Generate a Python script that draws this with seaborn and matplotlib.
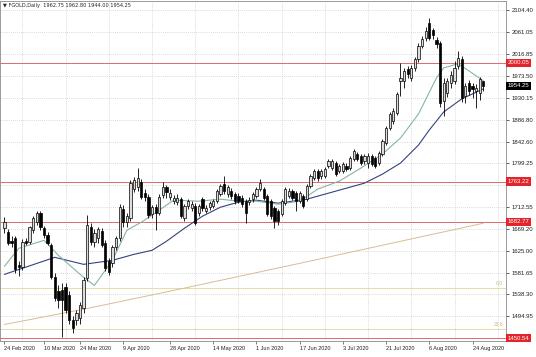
import matplotlib
matplotlib.use("Agg")
import matplotlib.pyplot as plt
import matplotlib.transforms as mtransforms
import seaborn as sns
import pandas as pd
import numpy as np

# ---------------- data ----------------
dates = pd.bdate_range("2020-02-24", "2020-08-27")

opens = [1670, 1662, 1645, 1650, 1596, 1592, 1644, 1642, 1666, 1682,
         1700, 1670, 1656, 1636, 1573, 1545, 1546, 1553, 1537, 1487,
         1487, 1491, 1511, 1571, 1672, 1642, 1650, 1664, 1640, 1604,
         1600, 1632, 1650, 1708, 1682, 1690, 1748, 1752, 1762, 1740,
         1732, 1698, 1712, 1700, 1736, 1752, 1732, 1724, 1722, 1728,
         1690, 1714, 1710, 1714, 1700, 1728, 1704, 1712, 1714, 1724,
         1738, 1758, 1738, 1744, 1738, 1734, 1730, 1724, 1722, 1728,
         1734, 1748, 1748, 1734, 1724, 1710, 1704, 1698, 1720, 1734,
         1744, 1740, 1724, 1734, 1728, 1754, 1770, 1784, 1774, 1774,
         1794, 1790, 1800, 1784, 1784, 1794, 1790, 1808, 1818, 1814,
         1804, 1800, 1814, 1810, 1800, 1818, 1840, 1870, 1884, 1900,
         1964, 1964, 1988, 1970, 1990, 2008, 2034, 2050, 2080, 2066,
         2046, 2040, 1924, 1940, 1960, 1964, 1994, 2008, 1934, 1960,
         1954, 1944, 1940, 1962.75]
highs = [1692, 1668, 1655, 1655, 1605, 1648, 1650, 1675, 1694, 1704,
         1704, 1675, 1662, 1640, 1580, 1556, 1560, 1560, 1545, 1495,
         1506, 1522, 1572, 1696, 1680, 1668, 1672, 1670, 1646, 1610,
         1636, 1655, 1718, 1716, 1700, 1766, 1772, 1790, 1768, 1748,
         1738, 1716, 1718, 1738, 1762, 1756, 1748, 1736, 1738, 1732,
         1718, 1728, 1724, 1720, 1718, 1732, 1716, 1724, 1728, 1748,
         1758, 1774, 1756, 1750, 1742, 1740, 1736, 1728, 1732, 1742,
         1752, 1768, 1752, 1738, 1728, 1714, 1708, 1728, 1752, 1750,
         1748, 1744, 1744, 1738, 1758, 1778, 1788, 1788, 1788, 1792,
         1808, 1808, 1804, 1798, 1802, 1800, 1814, 1828, 1822, 1818,
         1818, 1820, 1818, 1814, 1824, 1848, 1874, 1902, 1910, 1942,
         2000, 1990, 1994, 1996, 2012, 2040, 2054, 2072, 2090, 2070,
         2052, 2044, 1970, 1970, 1984, 2004, 2024, 2014, 1960, 1966,
         1960, 1958, 1972, 1962.80]
lows = [1660, 1636, 1632, 1580, 1575, 1586, 1636, 1638, 1660, 1676,
        1666, 1650, 1636, 1568, 1525, 1510, 1453, 1500, 1480, 1462,
        1478, 1480, 1500, 1565, 1636, 1632, 1640, 1632, 1584, 1576,
        1592, 1626, 1645, 1672, 1672, 1685, 1742, 1745, 1728, 1725,
        1690, 1690, 1666, 1696, 1730, 1730, 1726, 1718, 1716, 1690,
        1684, 1708, 1704, 1676, 1694, 1704, 1700, 1706, 1710, 1720,
        1734, 1738, 1732, 1728, 1718, 1720, 1712, 1680, 1716, 1722,
        1730, 1744, 1726, 1694, 1688, 1670, 1676, 1694, 1716, 1730,
        1726, 1704, 1720, 1710, 1724, 1750, 1766, 1764, 1768, 1770,
        1790, 1786, 1774, 1780, 1780, 1784, 1786, 1804, 1804, 1796,
        1798, 1790, 1794, 1790, 1796, 1814, 1836, 1866, 1878, 1896,
        1934, 1950, 1970, 1964, 1984, 2002, 2030, 2044, 2046, 2048,
        2030, 1912, 1894, 1932, 1950, 1958, 1988, 1922, 1920, 1936,
        1930, 1910, 1926, 1944.00]
closes = [1682, 1640, 1640, 1588, 1592, 1642, 1640, 1672, 1690, 1700,
          1672, 1656, 1640, 1573, 1531, 1527, 1527, 1507, 1487, 1471,
          1501, 1517, 1567, 1676, 1642, 1660, 1668, 1636, 1590, 1582,
          1632, 1650, 1712, 1682, 1694, 1760, 1766, 1770, 1732, 1732,
          1696, 1712, 1700, 1732, 1752, 1742, 1740, 1730, 1730, 1694,
          1714, 1724, 1718, 1680, 1714, 1710, 1710, 1720, 1724, 1744,
          1754, 1744, 1752, 1734, 1724, 1724, 1718, 1700, 1726, 1738,
          1748, 1760, 1730, 1698, 1694, 1684, 1684, 1724, 1748, 1744,
          1730, 1724, 1740, 1714, 1754, 1774, 1784, 1770, 1784, 1788,
          1804, 1804, 1778, 1794, 1798, 1788, 1810, 1824, 1808, 1800,
          1814, 1814, 1798, 1794, 1820, 1844, 1870, 1898, 1904, 1938,
          1970, 1984, 1978, 1990, 2008, 2034, 2048, 2064, 2050, 2056,
          2038, 1920, 1960, 1964, 1976, 1990, 2010, 1930, 1954, 1944,
          1948, 1950, 1968, 1954.25]

# moving averages, sampled along the chart (bar number, price)
ma_fast_bar = [0, 4, 11, 15, 22, 25, 30, 34, 38, 41, 47, 54, 60, 65, 70, 76,
               82, 87, 93, 99, 105, 110, 115, 120, 122, 126, 129, 133]
ma_fast_val = [1594, 1630, 1646, 1616, 1572, 1556, 1606, 1666, 1682, 1696,
               1726, 1724, 1728, 1724, 1724, 1718, 1724, 1748, 1764, 1790,
               1818, 1850, 1898, 1970, 1990, 1998, 1984, 1964]
ma_slow_bar = [0, 14, 22, 30, 36, 41, 45, 50, 55, 60, 65, 70, 76, 84, 90,
               100, 105, 110, 115, 118, 122, 127, 133]
ma_slow_val = [1578, 1612, 1598, 1606, 1618, 1626, 1644, 1670, 1694, 1712,
               1722, 1726, 1720, 1728, 1740, 1760, 1778, 1800, 1836, 1866,
               1902, 1928, 1948]
ma_long_bar = [0, 23, 47, 82, 110, 133]
ma_long_val = [1478, 1510, 1546, 1600, 1644, 1680]

price_ticks = [2104.40, 2061.05, 2016.85, 1973.50, 1930.15, 1886.80, 1842.60,
               1799.25, 1755.90, 1712.55, 1669.20, 1625.00, 1581.65, 1538.30,
               1494.95]
hidden_tick = 1755.90
red_levels = [2000.05, 1763.22, 1682.77, 1450.54]
fib_levels = [1550.0, 1470.0]
fib_labels = ["0.0", "23.6"]
label_dates = ["2020-02-24", "2020-03-10", "2020-03-24", "2020-04-09",
               "2020-04-28", "2020-05-14", "2020-06-01", "2020-06-17",
               "2020-07-03", "2020-07-21", "2020-08-06", "2020-08-24"]
header = "\u25BC FGOLD,Daily  1962.75 1962.80 1944.00 1954.25"
last_price = 1954.25

# ---------------- drawing ----------------
sns.set_style("white")
plt.rcParams["font.family"] = ["Liberation Sans", "DejaVu Sans"]

W, H = 536, 357
fig = plt.figure(figsize=(W / 100, H / 100), dpi=100)
ax = fig.add_axes([0.0, 16 / H, 506 / W, 340.5 / H])

n = len(dates)
xs = np.arange(n)
o = np.array(opens); h = np.array(highs); l = np.array(lows); c = np.array(closes)

ax.set_xlim(-1.22, 139.3)
ax.set_ylim(1445.1, 2124.3)

# grid
grid_kw = dict(color="#c4c4c4", linewidth=0.5, linestyle=(0, (1.2, 1.8)), zorder=0)
for v in price_ticks:
    ax.axhline(v, **grid_kw)
for gx in np.arange(5, 140, 12):
    ax.axvline(gx, **grid_kw)

# horizontal level lines
for lv in red_levels:
    ax.axhline(lv, color="#e06a6a", linewidth=0.7, zorder=1)
for lv in fib_levels:
    ax.axhline(lv, color="#e6dca8", linewidth=0.7, zorder=1)

# moving averages (seaborn)
sns.lineplot(x=ma_long_bar, y=ma_long_val, ax=ax, color="#d8bc94", linewidth=0.7,
             estimator=None, zorder=2)
sns.lineplot(x=ma_slow_bar, y=ma_slow_val, ax=ax, color="#34427e", linewidth=0.8,
             estimator=None, zorder=2)
sns.lineplot(x=ma_fast_bar, y=ma_fast_val, ax=ax, color="#86b4a6", linewidth=0.8,
             estimator=None, zorder=2)

# candles
up = c >= o
ax.vlines(xs, l, h, color="black", linewidth=0.6, zorder=3)
body_lo = np.minimum(o, c)
body_h = np.maximum(np.abs(c - o), 0.8)
ax.bar(xs[up], body_h[up], bottom=body_lo[up], width=0.62, color="#dcdcdc",
       edgecolor="black", linewidth=0.5, zorder=4)
ax.bar(xs[~up], body_h[~up], bottom=body_lo[~up], width=0.62, color="black",
       edgecolor="black", linewidth=0.5, zorder=4)

# axes cosmetics
for s in ax.spines.values():
    s.set_color("#8a8a8a")
    s.set_linewidth(0.6)
ax.yaxis.tick_right()
ax.set_yticks(price_ticks)
ax.set_yticklabels(["" if v == hidden_tick else f"{v:.2f}" for v in price_ticks])
ax.tick_params(axis="y", labelsize=4.3, length=2, width=0.5, pad=2,
               colors="#222222", right=True, left=False)
date_idx = [int(np.where(dates == pd.Timestamp(d))[0][0]) for d in label_dates]
ax.set_xticks(date_idx)
ax.set_xticklabels([])
ax.tick_params(axis="x", length=2, width=0.5, colors="#444444", bottom=True)
ax.set_xlabel(""); ax.set_ylabel("")

xlab_tr = mtransforms.blended_transform_factory(ax.transData, ax.transAxes)
for d, i in zip(label_dates, date_idx):
    ax.text(i, -0.014, pd.Timestamp(d).strftime("%-d %b %Y"), transform=xlab_tr,
            ha="left", va="top", fontsize=4.0, color="#222222", clip_on=False)

# price label boxes on the right scale
ylab_tr = mtransforms.blended_transform_factory(ax.transAxes, ax.transData)
for lv in red_levels:
    ax.text(1.004, lv, f"{lv:.2f}", transform=ylab_tr, ha="left", va="center",
            fontsize=4.3, color="white", clip_on=False, zorder=10,
            bbox=dict(facecolor="#e3242b", edgecolor="none", pad=1.2))
ax.text(1.004, last_price, f"{last_price:.2f}", transform=ylab_tr, ha="left",
        va="center", fontsize=4.3, color="white", clip_on=False, zorder=10,
        bbox=dict(facecolor="black", edgecolor="none", pad=1.2))
for lv, lab in zip(fib_levels, fib_labels):
    ax.text(0.994, lv + 4, lab, transform=ylab_tr, ha="right", va="bottom",
            fontsize=3.6, color="#c8b870", zorder=5)

ax.text(0.006, 0.992, header, transform=ax.transAxes, ha="left", va="top",
        fontsize=3.6, color="#222222", family=["DejaVu Sans"], zorder=10)

fig.savefig("out.png", dpi=100, facecolor="white")
